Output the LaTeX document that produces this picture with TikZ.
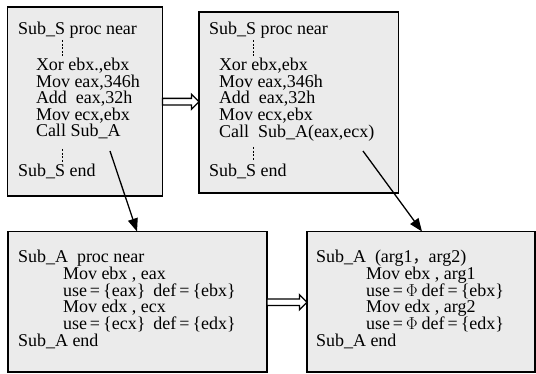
\documentclass[tikz,border=0pt]{standalone}
\usepackage{fontspec}
\setmainfont{Liberation Serif}
\newfontfamily\cjkfont{Noto Sans CJK SC}
\usetikzlibrary{arrows.meta,calc}
\definecolor{boxfill}{HTML}{EBEBEB}
\tikzset{
  codebox/.style={draw=black, line width=1.8pt, fill=boxfill, inner sep=0pt, outer sep=0pt, anchor=north west},
  codeline/.style={anchor=base west, inner sep=0pt, outer sep=0pt, text height=11.5pt, text depth=3.5pt, font=\fontsize{18}{18}\selectfont},
  gapmark/.style={line width=0.8pt, dash pattern=on 2pt off 1.6pt},
  callarrow/.style={line width=1.3pt, -{Triangle[length=13pt,width=10pt]}},
  hollowarrow/.style={draw=black, fill=white, line width=1.3pt, line join=miter},
}
\begin{document}
\begin{tikzpicture}[x=1pt,y=-1pt]
\useasboundingbox (0,0) rectangle (536,374);
% boxes
\node[codebox, minimum width=155pt, minimum height=189pt] (b1) at (7.5,7) {};
\node[codebox, minimum width=199.5pt, minimum height=181pt] (b2) at (199,12) {};
\node[codebox, minimum width=259pt, minimum height=140.5pt] (b3) at (8,231.5) {};
\node[codebox, minimum width=228pt, minimum height=140.5pt] (b4) at (307,231.5) {};
% box 1 text
\node[codeline] (s1) at (18,34.5) {Sub\_S proc near};
\node[codeline] (s2) at (36,71) {Xor ebx.,ebx};
\node[codeline] (s3) at (36,87.5) {Mov eax,346h};
\node[codeline] (s4) at (36,104) {Add\ \ eax,32h};
\node[codeline] (s5) at (36,120.5) {Mov ecx,ebx};
\node[codeline] (s6) at (36,137) {Call Sub\_A};
\node[codeline] (s7) at (18,177) {Sub\_S end};
\draw[gapmark] (62,40) -- (62,56);
\draw[gapmark] (62,149) -- (62,163);
% box 2 text
\node[codeline] (r1) at (209,35) {Sub\_S proc near};
\node[codeline] (r2) at (219,71) {Xor ebx,ebx};
\node[codeline] (r3) at (219,87.5) {Mov eax,346h};
\node[codeline] (r4) at (219,104) {Add\ \ eax,32h};
\node[codeline] (r5) at (219,120.5) {Mov ecx,ebx};
\node[codeline] (r6) at (219,137.3) {Call\ \ Sub\_A(eax,ecx)};
\node[codeline] (r7) at (209,176.5) {Sub\_S end};
\draw[gapmark] (253,40) -- (253,57);
\draw[gapmark] (253,147) -- (253,160);
% box 3 text
\node[codeline] (p1) at (18,263) {Sub\_A\ \ proc near};
\node[codeline] (p2) at (63,280) {Mov ebx , eax};
\node[codeline] (p3) at (63,296.5) {use\,=\,\{eax\}\hspace{8pt}def\,=\,\{ebx\}};
\node[codeline] (p4) at (63,313) {Mov edx , ecx};
\node[codeline] (p5) at (63,330) {use\,=\,\{ecx\}\hspace{8pt}def\,=\,\{edx\}};
\node[codeline] (p6) at (18,347) {Sub\_A end};
% box 4 text
\node[codeline] (q1) at (316,263) {Sub\_A\ \ (arg1{\cjkfont\fontsize{16}{16}\selectfont ，}arg2)};
\node[codeline] (q2) at (366,280) {Mov ebx , arg1};
\node[codeline] (q3) at (366,296.5) {use\,=\,$\Phi$\hspace{4pt}def\,=\,\{ebx\}};
\node[codeline] (q4) at (366,313) {Mov edx , arg2};
\node[codeline] (q5) at (366,330) {use\,=\,$\Phi$\hspace{4pt}def\,=\,\{edx\}};
\node[codeline] (q6) at (316,347) {Sub\_A end};
% hollow arrows
\coordinate (h1s) at (b1.east |- 0,101.7);
\coordinate (h1e) at (b2.west |- 0,101.7);
\draw[hollowarrow] ($(h1s)+(0,-3.3)$) -- ($(h1e)+(-7.5,-3.3)$) -- ($(h1e)+(-7.5,-7.5)$) -- (h1e)
  -- ($(h1e)+(-7.5,7.5)$) -- ($(h1e)+(-7.5,3.3)$) -- ($(h1s)+(0,3.3)$) -- cycle;
\coordinate (h2s) at (b3.east |- 0,302.3);
\coordinate (h2e) at (b4.west |- 0,302.3);
\draw[hollowarrow] ($(h2s)+(0,-3.3)$) -- ($(h2e)+(-7.5,-3.3)$) -- ($(h2e)+(-7.5,-7.5)$) -- (h2e)
  -- ($(h2e)+(-7.5,7.5)$) -- ($(h2e)+(-7.5,3.3)$) -- ($(h2s)+(0,3.3)$) -- cycle;
% call arrows
\coordinate (c1s) at (110,151);
\coordinate (c1e) at (b3.north -| 137,0);
\coordinate (c2s) at (363,151);
\coordinate (c2e) at (b4.north -| 422,0);
\draw[callarrow] (c1s) -- (c1e);
\draw[callarrow] (c2s) -- (c2e);
\end{tikzpicture}
\end{document}
